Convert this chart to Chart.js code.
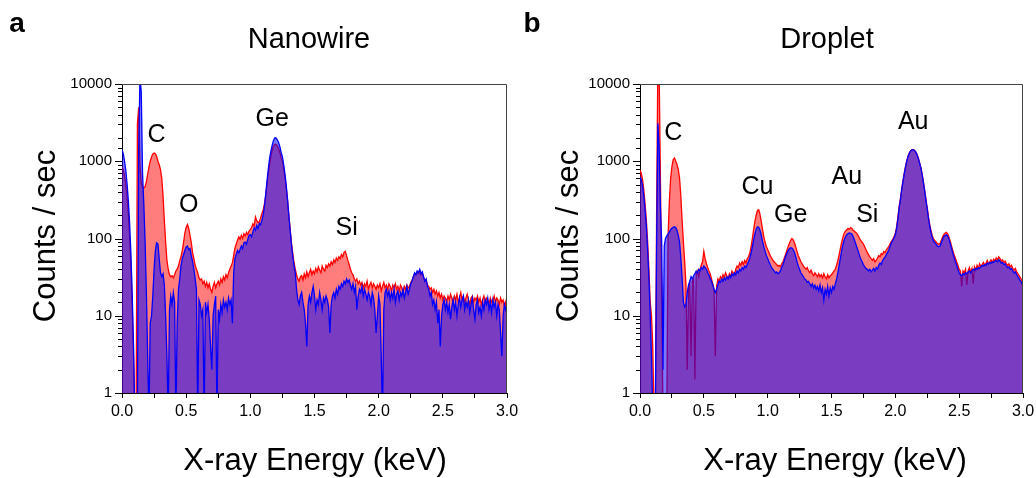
<!DOCTYPE html>
<html>
<head>
<meta charset="utf-8">
<script src="https://cdn.jsdelivr.net/npm/chart.js@4.4.1/dist/chart.umd.min.js"></script>
<style>
  body { margin: 0; background: #fff; }
  .row { display: flex; width: 1036px; height: 478px; }
  canvas { display: block; }
</style>
</head>
<body>
<div class="row">
  <canvas id="nanowire" width="518" height="478"></canvas>
  <canvas id="droplet" width="518" height="478"></canvas>
</div>
<script>
// channel energies in keV, 0.00 .. 3.00 in 0.01 steps
const energy = Array.from({ length: 301 }, (_, i) => +(i * 0.01).toFixed(2));

const yTickLabels = [1, 10, 100, 1000, 10000];

// Panel a: nanowire, red spectrum
const nwRed = [
  850, 780, 650, 500, 340, 200, 100, 40, 12, 3,
  0.5, 0.5, 3000, 5000, 900, 520, 460, 450, 470, 540,
  680, 840, 1000, 1140, 1240, 1280, 1250, 1150, 1000, 900,
  780, 600, 350, 170, 90, 52, 40, 34, 32, 33,
  31, 34, 38, 40, 44, 52, 58, 70, 90, 118,
  140, 152, 135, 110, 88, 66, 55, 45, 40, 36,
  31, 29, 30, 26, 28, 24, 27, 23, 26, 22,
  20, 24, 27, 23, 26, 28, 25, 30, 27, 32,
  29, 34, 31, 36, 40, 44, 48, 60, 75, 85,
  95, 105, 98, 110, 100, 115, 108, 120, 112, 125,
  130, 140, 155, 145, 190, 170, 160, 165, 185, 210,
  235, 280, 360, 500, 700, 900, 1150, 1380, 1550, 1650,
  1650, 1580, 1450, 1300, 1120, 1000, 800, 620, 450, 310,
  200, 135, 90, 65, 50, 40, 34, 30, 28, 32,
  33, 29, 35, 31, 37, 32, 36, 40, 34, 38,
  35, 41, 37, 43, 39, 36, 44, 40, 38, 45,
  42, 47, 44, 50, 46, 53, 49, 56, 52, 58,
  55, 62, 58, 66, 68, 60, 52, 46, 40, 36,
  34, 30, 28, 30, 26, 28, 25, 27, 23, 26,
  24, 28, 22, 25, 27, 23, 26, 24, 22, 25,
  23, 26, 21, 24, 27, 23, 25, 22, 26, 24,
  21, 25, 23, 26, 22, 24, 21, 25, 23, 20,
  24, 22, 25, 23, 24, 27, 29, 32, 35, 34,
  37, 35, 38, 34, 36, 31, 28, 29, 25, 24,
  22, 23, 20, 22, 19, 21, 18, 20, 17, 19,
  16, 18, 17, 15, 18, 16, 19, 17, 15, 18,
  16, 19, 15, 17, 20, 16, 18, 15, 17, 19,
  16, 14, 17, 18, 15, 17, 16, 18, 15, 17,
  14, 16, 18, 15, 17, 16, 14, 17, 15, 16,
  18, 15, 17, 16, 14, 17, 15, 16, 13, 15,
  12
];

// Panel a: nanowire, blue spectrum
const nwBlue = [
  1400, 1250, 1000, 750, 500, 300, 150, 60, 18, 4,
  0.5, 0.5, 0.5, 1500, 12000, 8000, 700, 280, 90, 20,
  3, 0.5, 8, 10, 18, 40, 70, 88, 85, 55,
  36, 32, 35, 25, 10, 3, 0.5, 12, 18, 14,
  20, 15, 0.5, 8, 22, 30, 45, 55, 62, 70,
  78, 80, 72, 74, 60, 50, 40, 30, 22, 0.5,
  16, 14, 10, 12, 0.5, 15, 11, 14, 9, 4,
  2, 10, 14, 18, 0.5, 12, 9, 14, 11, 16,
  13, 15, 12, 17, 14, 16, 8, 35, 55, 62,
  70, 65, 72, 80, 74, 88, 90, 84, 98, 110,
  112, 105, 122, 138, 128, 148, 135, 158, 150, 172,
  200, 260, 380, 560, 800, 1080, 1350, 1600, 1850, 2000,
  2000, 1900, 1750, 1550, 1300, 1150, 900, 680, 480, 320,
  200, 130, 85, 60, 45, 36, 22, 16, 14, 18,
  20, 15, 12, 8, 4, 14, 18, 15, 20, 24,
  18, 12, 16, 14, 20, 16, 12, 17, 15, 18,
  16, 13, 6, 14, 18, 20, 17, 22, 19, 24,
  22, 26, 24, 28, 26, 30, 27, 29, 25, 22,
  26, 20, 24, 12, 18, 22, 20, 24, 18, 22,
  19, 16, 20, 18, 14, 20, 17, 12, 6, 10,
  18, 14, 3, 0.5, 12, 20, 22, 18, 21, 16,
  20, 17, 22, 15, 19, 21, 16, 20, 18, 22,
  17, 20, 24, 19, 22, 26, 28, 32, 36, 34,
  38, 36, 40, 35, 37, 32, 28, 30, 24, 22,
  18, 20, 14, 16, 12, 15, 8, 12, 4, 10,
  14, 16, 12, 15, 11, 14, 9, 13, 16, 12,
  15, 10, 14, 17, 13, 16, 18, 12, 15, 13,
  16, 11, 14, 17, 12, 9, 14, 16, 11, 13,
  10, 15, 12, 16, 14, 17, 12, 15, 11, 16,
  13, 15, 10, 14, 12, 6, 3, 10, 14, 12,
  14
];

// Panel b: droplet, red spectrum
const drRed = [
  770, 700, 580, 420, 280, 170, 90, 40, 15, 10,
  4, 0.5, 0.5, 200, 20000, 15000, 600, 20, 0.5, 0.5,
  0.5, 0.5, 110, 300, 600, 850, 1050, 1100, 1000, 900,
  780, 600, 350, 170, 90, 50, 25, 2, 22, 26,
  3, 28, 30, 1.5, 35, 38, 32, 40, 45, 50,
  68, 55, 48, 42, 38, 35, 30, 26, 22, 3,
  24, 30, 28, 32, 30, 34, 31, 36, 33, 30,
  35, 32, 38, 36, 34, 40, 44, 42, 48, 45,
  50, 46, 52, 48, 55, 58, 65, 78, 100, 130,
  165, 200, 230, 235, 205, 165, 130, 105, 90, 78,
  72, 66, 60, 56, 53, 50, 48, 46, 44, 45,
  43, 47, 50, 56, 62, 70, 78, 86, 95, 100,
  96, 88, 78, 68, 60, 55, 50, 47, 44, 42,
  40, 42, 38, 36, 39, 35, 33, 36, 34, 32,
  35, 32, 34, 31, 35, 32, 30, 34, 31, 33,
  34, 36, 38, 40, 45, 52, 62, 75, 90, 105,
  118, 125, 130, 135, 132, 138, 135, 128, 124, 120,
  115, 108, 100, 94, 90, 85, 78, 72, 66, 62,
  58, 55, 52, 55, 50, 52, 56, 60, 58, 64,
  62, 68, 66, 72, 75, 80, 86, 92, 98, 105,
  118, 140, 190, 260, 330, 440, 560, 700, 860, 1020,
  1170, 1290, 1370, 1410, 1420, 1390, 1320, 1220, 1100, 960,
  830, 680, 540, 420, 320, 250, 190, 150, 125, 108,
  98, 94, 90, 86, 84, 86, 95, 105, 112, 118,
  120, 115, 105, 92, 80, 70, 62, 56, 50, 45,
  40, 38, 24, 38, 36, 40, 25, 38, 42, 37,
  41, 26, 43, 39, 45, 41, 47, 43, 46, 49,
  45, 48, 52, 47, 50, 53, 49, 54, 51, 56,
  53, 58, 55, 51, 53, 49, 51, 47, 45, 47,
  43, 45, 41, 39, 41, 37, 35, 33, 31, 29,
  22
];

// Panel b: droplet, blue spectrum
const drBlue = [
  630, 580, 480, 350, 230, 140, 70, 30, 10, 3,
  0.5, 0.5, 0.5, 80, 3100, 1500, 250, 90, 2, 80,
  100, 108, 115, 122, 130, 136, 140, 142, 138, 128,
  110, 90, 55, 30, 15, 13, 14, 20, 25, 28,
  32, 30, 33, 35, 38, 36, 40, 38, 42, 40,
  44, 42, 40, 36, 34, 30, 28, 25, 22, 20,
  22, 25, 28, 27, 30, 28, 31, 29, 32, 30,
  33, 31, 35, 33, 36, 34, 38, 36, 40, 38,
  42, 40, 44, 42, 46, 50, 56, 65, 78, 95,
  115, 132, 142, 140, 128, 110, 92, 78, 68, 60,
  55, 50, 46, 42, 40, 38, 36, 37, 35, 36,
  38, 42, 46, 52, 58, 64, 70, 74, 76, 75,
  72, 66, 58, 50, 44, 40, 36, 34, 32, 30,
  29, 27, 28, 26, 24, 26, 23, 25, 22, 24,
  21, 25, 20, 23, 16, 22, 19, 24, 18, 23,
  20, 24, 22, 26, 30, 36, 45, 56, 70, 84,
  96, 105, 112, 116, 118, 117, 114, 105, 95, 85,
  76, 68, 60, 54, 50, 46, 43, 41, 40, 38,
  40, 37, 39, 41, 38, 42, 40, 45, 48, 46,
  52, 55, 58, 62, 66, 72, 80, 88, 95, 102,
  112, 135, 180, 250, 320, 430, 550, 690, 850, 1010,
  1160, 1280, 1360, 1400, 1410, 1380, 1310, 1210, 1090, 950,
  820, 670, 530, 410, 310, 240, 180, 142, 118, 102,
  92, 88, 84, 80, 78, 80, 88, 98, 105, 110,
  112, 108, 98, 86, 75, 65, 57, 50, 45, 40,
  36, 34, 33, 35, 34, 36, 35, 37, 38, 36,
  38, 40, 39, 41, 40, 42, 41, 43, 45, 44,
  46, 45, 48, 47, 49, 48, 50, 49, 51, 52,
  50, 53, 51, 48, 49, 46, 47, 44, 42, 43,
  40, 41, 38, 36, 37, 34, 32, 30, 28, 27,
  24
];

// peak annotations (text centre in data coordinates)
const nwPeakText = ['C', 'O', 'Ge', 'Si'];
const nwPeakKeV = [0.27, 0.52, 1.17, 1.75];
const nwPeakCounts = [2190, 271, 3500, 137];

const drPeakText = ['C', 'Cu', 'Ge', 'Au', 'Si', 'Au'];
const drPeakKeV = [0.26, 0.92, 1.18, 1.62, 1.78, 2.14];
const drPeakCounts = [2320, 464, 201, 625, 201, 3220];

const FONT = '"Liberation Sans", Arial, Helvetica, sans-serif';

const decorPlugin = {
  id: 'decor',
  afterDraw(chart, args, opts) {
    const ctx = chart.ctx;
    const area = chart.chartArea;
    const x = chart.scales.x;
    const y = chart.scales.y;
    ctx.save();

    // top and right frame
    ctx.strokeStyle = '#444';
    ctx.lineWidth = 1;
    ctx.beginPath();
    ctx.moveTo(area.left, area.top + 0.5);
    ctx.lineTo(area.right - 0.5, area.top + 0.5);
    ctx.lineTo(area.right - 0.5, area.bottom);
    ctx.stroke();

    // y tick marks, long at decades, short between
    ctx.strokeStyle = '#000';
    ctx.beginPath();
    y.ticks.forEach(t => {
      const py = Math.round(y.getPixelForValue(t.value)) + 0.5;
      const len = yTickLabels.includes(t.value) ? 7 : 4;
      ctx.moveTo(area.left, py);
      ctx.lineTo(area.left - len, py);
    });
    ctx.stroke();

    // peak labels
    ctx.fillStyle = '#000';
    ctx.textAlign = 'center';
    ctx.textBaseline = 'middle';
    ctx.font = '25px ' + FONT;
    opts.text.forEach((t, i) => {
      ctx.fillText(t, x.getPixelForValue(opts.keV[i]), y.getPixelForValue(opts.counts[i]));
    });

    // panel title and letter
    ctx.font = '29px ' + FONT;
    ctx.fillText(opts.title, opts.titleX, 40);
    ctx.font = 'bold 28px ' + FONT;
    ctx.fillText(opts.letter, opts.letterX, 24);

    // axis titles
    ctx.font = '31px ' + FONT;
    ctx.fillText('X-ray Energy (keV)', opts.xTitleX, 461);
    ctx.translate(opts.yTitleX, 236);
    ctx.rotate(-Math.PI / 2);
    ctx.fillText('Counts / sec', 0, 0);

    ctx.restore();
  }
};

function toPoints(values) {
  return values.map((v, i) => ({ x: energy[i], y: v }));
}

function createSpectrum(id, red, blue, decor, rightPad) {
  const ctx = document.getElementById(id).getContext('2d');
  return new Chart(ctx, {
    type: 'line',
    data: {
      datasets: [
        {
          label: 'blue',
          data: toPoints(blue),
          borderColor: '#0000ff',
          backgroundColor: 'rgba(0, 0, 255, 0.52)',
          borderWidth: 1.3,
          pointRadius: 0,
          fill: 'start',
          clip: 0
        },
        {
          label: 'red',
          data: toPoints(red),
          borderColor: '#ff0000',
          backgroundColor: 'rgba(255, 0, 0, 0.51)',
          borderWidth: 1.3,
          pointRadius: 0,
          fill: 'start',
          clip: 0
        }
      ]
    },
    options: {
      responsive: false,
      animation: false,
      devicePixelRatio: 1,
      layout: { padding: { top: 84, right: rightPad, bottom: 0, left: 0 } },
      scales: {
        x: {
          type: 'linear',
          min: 0,
          max: 3,
          afterFit: s => { s.height = 85; s.paddingLeft = 0; s.paddingRight = 0; },
          border: { color: '#000' },
          grid: { drawOnChartArea: false, tickLength: 5, color: '#000' },
          ticks: {
            stepSize: 0.25,
            maxRotation: 0,
            autoSkip: false,
            padding: 4,
            color: '#000',
            font: { family: FONT, size: 16 },
            callback: v => (Math.abs(v * 2 - Math.round(v * 2)) < 1e-6 ? v.toFixed(1) : '')
          }
        },
        y: {
          type: 'logarithmic',
          min: 1,
          max: 10000,
          afterFit: s => { s.width = 122; s.paddingTop = 0; s.paddingBottom = 0; },
          border: { color: '#000' },
          grid: { drawOnChartArea: false, drawTicks: false },
          ticks: {
            autoSkip: false,
            padding: 10,
            color: '#000',
            font: { family: FONT, size: 15 },
            callback: v => (yTickLabels.includes(v) ? String(v) : '')
          }
        }
      },
      plugins: {
        legend: { display: false },
        tooltip: { enabled: false },
        decor: decor
      }
    },
    plugins: [decorPlugin]
  });
}

createSpectrum('nanowire', nwRed, nwBlue, {
  text: nwPeakText, keV: nwPeakKeV, counts: nwPeakCounts,
  title: 'Nanowire', titleX: 309, letter: 'a', letterX: 17,
  xTitleX: 315, yTitleX: 46
}, 11);

createSpectrum('droplet', drRed, drBlue, {
  text: drPeakText, keV: drPeakKeV, counts: drPeakCounts,
  title: 'Droplet', titleX: 309, letter: 'b', letterX: 14,
  xTitleX: 317, yTitleX: 51
}, 13);
</script>
</body>
</html>
